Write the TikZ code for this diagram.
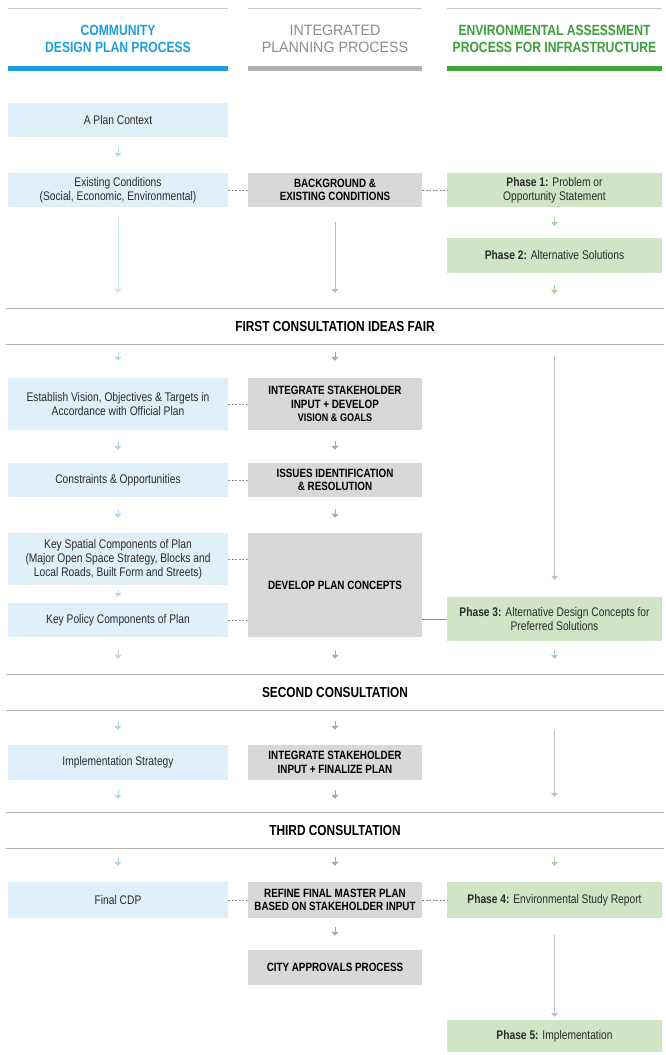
\documentclass[tikz,border=0pt]{standalone}
\usepackage{fontspec}
\setmainfont{Liberation Sans}[FakeStretch=0.82]
\newfontfamily\hwide{Liberation Sans}[FakeStretch=0.95]
\usetikzlibrary{arrows.meta,calc}
\definecolor{lblue}{HTML}{E0F0FA}
\definecolor{mgray}{HTML}{D8D8D8}
\definecolor{rgreen}{HTML}{CFE5C6}
\definecolor{hblue}{HTML}{1E9FDC}
\definecolor{hgray}{HTML}{8C8C8C}
\definecolor{hgreen}{HTML}{3C9F3C}
\definecolor{bgray}{HTML}{B0B0B0}
\definecolor{bgreen}{HTML}{3DA63D}
\definecolor{aleft}{HTML}{B8D6E6}
\definecolor{amid}{HTML}{A8A8A8}
\definecolor{aright}{HTML}{B0D0A8}
\definecolor{txt}{HTML}{2A2A2A}
\begin{document}
\begin{tikzpicture}[x=1pt,y=-1pt,
  lbox/.style={fill=lblue,minimum width=220pt,minimum height=34pt,inner sep=0pt,align=center,text=txt,font=\fontsize{12.5}{14}\selectfont},
  mbox/.style={fill=mgray,minimum width=174pt,minimum height=34pt,inner sep=0pt,align=center,text=black,font=\bfseries\fontsize{12}{13.5}\selectfont},
  rbox/.style={fill=rgreen,minimum width=215pt,minimum height=34pt,inner sep=0pt,align=center,text=txt,font=\fontsize{12.5}{14}\selectfont},
  htext/.style={align=center,font=\bfseries\fontsize{14.8}{17}\selectfont,inner sep=0pt},
  cbar/.style={minimum width=658pt,minimum height=35pt,inner sep=0pt,font=\bfseries\fontsize{14.5}{16}\selectfont},
  cline/.style={draw=bgray,line width=1.2pt},
  arr/.style={line width=0.8pt,-{Triangle[width=7pt,length=4pt]}},
  larr/.style={arr,draw=aleft,fill=aleft},
  marr/.style={arr,draw=amid,fill=amid},
  rarr/.style={arr,draw=aright,fill=aright},
  link/.style={draw=hgray,line width=0.6pt,dash pattern=on 2pt off 1.5pt},
  solidlink/.style={draw=hgray,line width=0.6pt}
]
\useasboundingbox[fill=white] (0,0) rectangle (666,1055);

% header
\draw[draw=bgray!70,line width=0.8pt] (8,8) -- (228,8) (248,8) -- (422,8) (447,8) -- (662,8);
\node[htext,text=hblue] (h1) at (118,38.5) {COMMUNITY\\DESIGN PLAN PROCESS};
\node[htext,text=hgray,font=\hwide\fontsize{15}{17}\selectfont] (h2) at (335,38.5) {INTEGRATED\\PLANNING PROCESS};
\node[htext,text=hgreen] (h3) at (554.5,38.5) {ENVIRONMENTAL ASSESSMENT\\PROCESS FOR INFRASTRUCTURE};
\fill[hblue] (8,66) rectangle (228,70.5);
\fill[bgray] (248,66) rectangle (422,70.5);
\fill[bgreen] (447,66) rectangle (662,70.5);

% consultation bars
\node[cbar] (c1) at (335,326.5) {FIRST CONSULTATION IDEAS FAIR};
\node[cbar] (c2) at (335,692.5) {SECOND CONSULTATION};
\node[cbar] (c3) at (335,830.5) {THIRD CONSULTATION};
\foreach \c in {c1,c2,c3}{
  \draw[cline] (\c.north west) -- (\c.north east);
  \draw[cline] (\c.south west) -- (\c.south east);
}

% left column
\node[lbox] (pc) at (118,120) {A Plan Context};
\node[lbox] (ec) at (118,190) {Existing Conditions\\(Social, Economic, Environmental)};
\node[lbox,minimum height=52pt] (ev) at (118,404) {Establish Vision, Objectives \& Targets in\\Accordance with Official Plan};
\node[lbox] (co) at (118,480) {Constraints \& Opportunities};
\node[lbox,minimum height=52pt] (ks) at (118,559) {Key Spatial Components of Plan\\(Major Open Space Strategy, Blocks and\\Local Roads, Built Form and Streets)};
\node[lbox] (kp) at (118,620) {Key Policy Components of Plan};
\node[lbox,minimum height=35pt] (is) at (118,762.5) {Implementation Strategy};
\node[lbox,minimum height=36pt] (fc) at (118,900) {Final CDP};

% middle column
\node[mbox] (bg) at (335,190) {BACKGROUND \&\\EXISTING CONDITIONS};
\node[mbox,minimum height=52pt] (iv) at (335,404) {INTEGRATE STAKEHOLDER\\INPUT + DEVELOP\\{\fontsize{11}{13}\selectfont VISION \& GOALS}};
\node[mbox] (ii) at (335,480) {ISSUES IDENTIFICATION\\\& RESOLUTION};
\node[mbox,minimum height=104pt] (dp) at (335,585) {DEVELOP PLAN CONCEPTS};
\node[mbox,minimum height=35pt] (if) at (335,762.5) {INTEGRATE STAKEHOLDER\\INPUT + FINALIZE PLAN};
\node[mbox,minimum height=36pt] (rf) at (335,900) {REFINE FINAL MASTER PLAN\\BASED ON STAKEHOLDER INPUT};
\node[mbox,minimum height=35pt] (ca) at (335,967.5) {CITY APPROVALS PROCESS};

% right column
\node[rbox] (p1) at (554.5,190) {\textbf{Phase 1:} Problem or\\Opportunity Statement};
\node[rbox,minimum height=35pt] (p2) at (554.5,255.5) {\textbf{Phase 2:} Alternative Solutions};
\node[rbox,minimum height=44pt] (p3) at (554.5,619) {\textbf{Phase 3:} Alternative Design Concepts for\\Preferred Solutions};
\node[rbox,minimum height=36pt] (p4) at (554.5,900) {\textbf{Phase 4:} Environmental Study Report};
\node[rbox,minimum height=32pt] (p5) at (554.5,1036) {\textbf{Phase 5:} Implementation};

% horizontal links
\draw[link] (ec.east) -- (bg.west);
\draw[link] (bg.east) -- (p1.west);
\draw[link] (ev.east) -- (iv.west);
\draw[link] (co.east) -- (ii.west);
\draw[link] (ks.east) -- (ks.east -| dp.west);
\draw[link] (kp.east) -- (kp.east -| dp.west);
\draw[solidlink] (p3.west -| dp.east) -- (p3.west);
\draw[link] (fc.east) -- (rf.west);
\draw[link] (rf.east) -- (p4.west);

% left arrows
\draw[larr,shorten <=10pt,shorten >=16pt] (pc) -- (ec);
\draw[larr,draw=aleft!70,shorten <=8pt,shorten >=16pt] (ec) -- (ec |- c1.north);
\draw[larr,shorten <=8pt,shorten >=17pt] (ev |- c1.south) -- (ev);
\draw[larr,shorten <=11pt,shorten >=13pt] (ev) -- (co);
\draw[larr,shorten <=12pt,shorten >=15pt] (co) -- (ks);
\draw[larr,shorten <=4pt,shorten >=6pt] (ks) -- (kp);
\draw[larr,shorten <=13pt,shorten >=16pt] (kp) -- (kp |- c2.north);
\draw[larr,shorten <=11pt,shorten >=15pt] (is |- c2.south) -- (is);
\draw[larr,shorten <=10pt,shorten >=14pt] (is) -- (is |- c3.north);
\draw[larr,shorten <=9pt,shorten >=16pt] (fc |- c3.south) -- (fc);

% middle arrows
\draw[marr,draw=amid!80,shorten <=15pt,shorten >=16pt] (bg) -- (bg |- c1.north);
\draw[marr,shorten <=8pt,shorten >=17pt] (iv |- c1.south) -- (iv);
\draw[marr,shorten <=11pt,shorten >=13pt] (iv) -- (ii);
\draw[marr,shorten <=12pt,shorten >=15pt] (ii) -- (dp);
\draw[marr,shorten <=13pt,shorten >=16pt] (dp) -- (dp |- c2.north);
\draw[marr,shorten <=11pt,shorten >=15pt] (if |- c2.south) -- (if);
\draw[marr,shorten <=10pt,shorten >=14pt] (if) -- (if |- c3.north);
\draw[marr,shorten <=9pt,shorten >=16pt] (rf |- c3.south) -- (rf);
\draw[marr,shorten <=9pt,shorten >=14pt] (rf) -- (ca);

% right arrows
\draw[rarr,shorten <=10pt,shorten >=12pt] (p1) -- (p2);
\draw[rarr,shorten <=12pt,shorten >=15pt] (p2) -- (p2 |- c1.north);
\draw[marr,draw=amid!70,shorten <=12pt,shorten >=17pt] (p3 |- c1.south) -- (p3);
\draw[rarr,shorten <=9pt,shorten >=16pt] (p3) -- (p3 |- c2.north);
\draw[marr,draw=amid!70,shorten <=20pt,shorten >=16pt] (p3 |- c2.south) -- (p3 |- c3.north);
\draw[rarr,shorten <=9pt,shorten >=16pt] (p4 |- c3.south) -- (p4);
\draw[marr,draw=amid!70,shorten <=17pt,shorten >=3pt] (p4) -- (p5);
\end{tikzpicture}
\end{document}
